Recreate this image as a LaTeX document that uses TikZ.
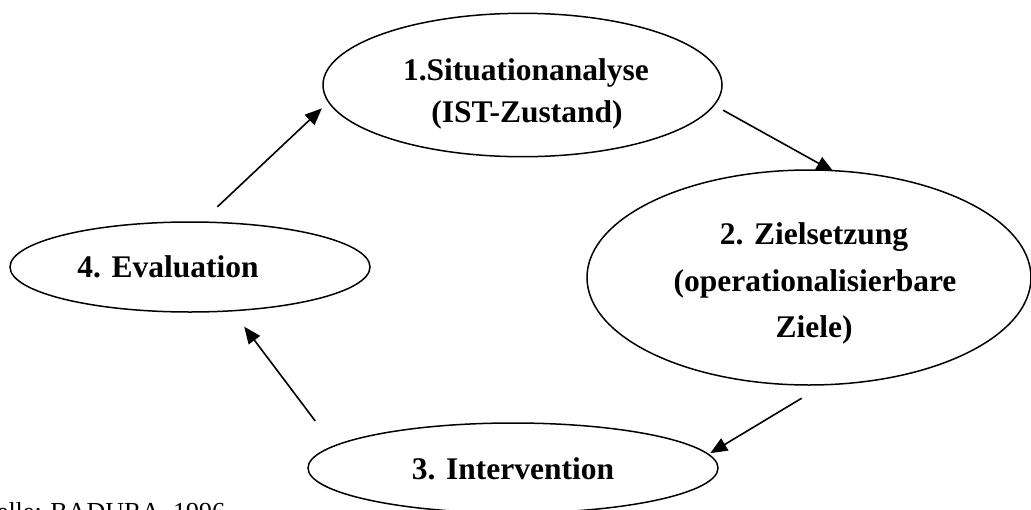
\documentclass[tikz,border=0pt]{standalone}
\usepackage{fontspec}
\setmainfont{Liberation Serif}
\usetikzlibrary{arrows.meta,backgrounds,shapes.geometric}

\begin{document}
\begin{tikzpicture}[x=1pt,y=-1pt,
  phase/.style={ellipse,draw,line width=1.5pt,fill=white,inner sep=0pt,outer sep=0pt},
  phasetext/.style={anchor=base,inner sep=0pt,font=\fontsize{31.5}{38}\selectfont\bfseries},
  flow/.style={line width=1.6pt,-{Triangle[length=17pt,width=14pt]}},
]
\useasboundingbox (0,0) rectangle (1031,509);
\clip (0,0) rectangle (1031,509);

% the four phases of the cycle
\node[phase,minimum width=399pt,minimum height=143.4pt] (e1) at (522.5,85) {};
\node[phase,minimum width=444pt,minimum height=215pt]   (e2) at (809,277.5) {};
\node[phase,minimum width=410pt,minimum height=90pt]    (e3) at (513,468) {};
\node[phase,minimum width=360pt,minimum height=90pt]    (e4) at (190,267) {};

% phase labels
\node[phasetext] (t1a) at (526,80)  {1.Situationanalyse};
\node[phasetext] (t1b) at (527,122) {(IST-Zustand)};
\node[phasetext] (t2a) at (814,244) {2. Zielsetzung};
\node[phasetext] (t2b) at (815,291) {(operationalisierbare};
\node[phasetext] (t2c) at (814,337) {Ziele)};
\node[phasetext] (t3)  at (513,479) {3. Intervention};
\node[phasetext] (t4)  at (168,277) {4. Evaluation};

% source line
\node[anchor=base west,inner sep=0pt,font=\fontsize{26}{31}\selectfont] (src) at (-35,520.5) {Quelle: BADURA, 1996};

% arrows between the phases, behind the ellipses
\begin{scope}[on background layer]
  \draw[flow,shorten <=22.3pt,shorten >=9.3pt] (e4.76.9) -- (e1.185.6);
  \draw[flow,shorten <=10.4pt,shorten >=-2pt] (e1.354.2) -- (e2.78.8);
  \draw[flow,shorten <=26.1pt,shorten >=2.3pt] (e2.278.75) -- (e3.4.05);
  \draw[flow,shorten <=31.4pt,shorten >=19.9pt] (e3.173.7) -- (e4.314.8);
\end{scope}
\end{tikzpicture}
\end{document}
